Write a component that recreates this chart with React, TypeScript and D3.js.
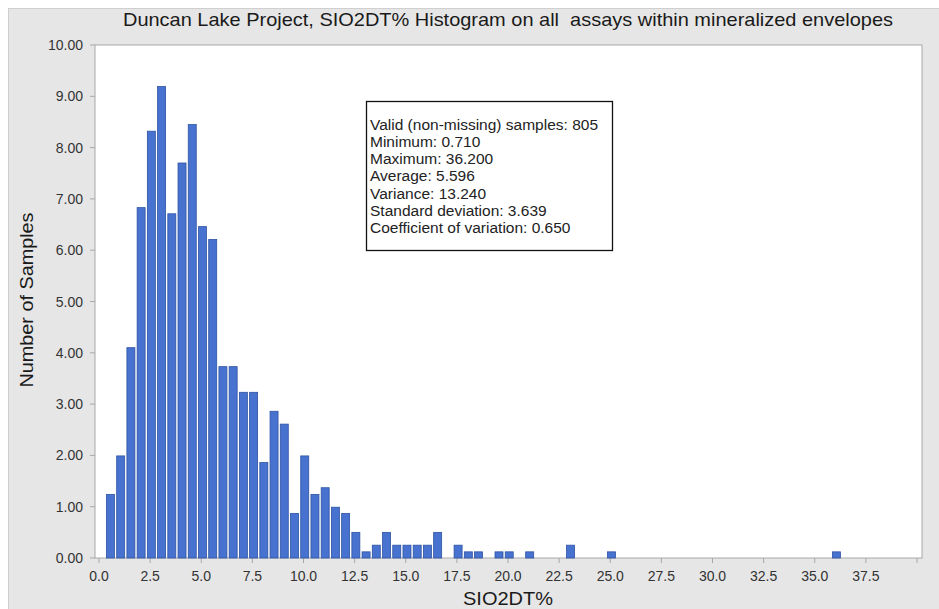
import React from "react";
import * as d3 from "d3";

const title = "Duncan Lake Project, SIO2DT% Histogram on all\u00a0 assays within mineralized envelopes";
const xAxisTitle = "SIO2DT%";
const yAxisTitle = "Number of Samples";

// histogram bin positions (SIO2DT%) with non-zero frequency
const binValues = [
  0.5, 1.0, 1.5, 2.0, 2.5, 3.0, 3.5, 4.0, 4.5, 5.0,
  5.5, 6.0, 6.5, 7.0, 7.5, 8.0, 8.5, 9.0, 9.5, 10.0,
  10.5, 11.0, 11.5, 12.0, 12.5, 13.0, 13.5, 14.0, 14.5, 15.0,
  15.5, 16.0, 16.5, 17.5, 18.0, 18.5, 19.5, 20.0, 21.0, 23.0,
  25.0, 36.0,
];
// percentage of samples in each bin
const binPercent = [
  1.24, 1.99, 4.10, 6.83, 8.32, 9.19, 6.71, 7.70, 8.45, 6.46,
  6.21, 3.73, 3.73, 3.23, 3.23, 1.86, 2.86, 2.61, 0.87, 1.99,
  1.24, 1.37, 0.99, 0.87, 0.50, 0.12, 0.25, 0.50, 0.25, 0.25,
  0.25, 0.25, 0.50, 0.25, 0.12, 0.12, 0.12, 0.12, 0.12, 0.25,
  0.12, 0.12,
];

const yTicks = [0, 1, 2, 3, 4, 5, 6, 7, 8, 9, 10];
const xTicks = [0, 2.5, 5, 7.5, 10, 12.5, 15, 17.5, 20, 22.5, 25, 27.5, 30, 32.5, 35, 37.5, 40];
const xTickLabels = ["0.0", "2.5", "5.0", "7.5", "10.0", "12.5", "15.0", "17.5", "20.0", "22.5", "25.0", "27.5", "30.0", "32.5", "35.0", "37.5", ""];

const statsLines = [
  "Valid (non-missing) samples: 805",
  "Minimum: 0.710",
  "Maximum: 36.200",
  "Average: 5.596",
  "Variance: 13.240",
  "Standard deviation: 3.639",
  "Coefficient of variation: 0.650",
];

const W = 939;
const H = 609;
const plot = { left: 95, right: 922, top: 45, bottom: 558 };
const FONT = "'Liberation Sans', Arial, sans-serif";

export default function App() {
  const x = d3.scaleLinear().domain([0, 40]).range([99, 917]);
  const y = d3.scaleLinear().domain([0, 10]).range([plot.bottom, plot.top]);
  const barW = 8;
  const barOffset = 0.06;

  return (
    <div style={{ position: "fixed", left: 0, top: 0 }}>
      <svg width={W} height={H} style={{ display: "block" }} fontFamily={FONT}>
        <rect x={0} y={0} width={W} height={H} fill="#ffffff" />
        <rect x={8.5} y={8.5} width={W - 8} height={H - 8} fill="#e6e6e6" stroke="#cfcfcf" />
        <text x={508} y={26} textAnchor="middle" fontSize={19} fill="#1a1a1a" textLength={770} lengthAdjust="spacingAndGlyphs">
          {title}
        </text>
        <rect x={plot.left} y={plot.top} width={plot.right - plot.left} height={plot.bottom - plot.top} fill="#ffffff" stroke="#a8a8a8" strokeWidth={1} />

        {yTicks.map((t) => (
          <g key={"y" + t}>
            <line x1={plot.left - 5} x2={plot.left} y1={y(t)} y2={y(t)} stroke="#a8a8a8" />
            <text x={83} y={y(t) + 5} textAnchor="end" fontSize={14} fill="#333">
              {t.toFixed(2)}
            </text>
          </g>
        ))}
        {xTicks.map((t, i) => (
          <g key={"x" + t}>
            <line x1={x(t)} x2={x(t)} y1={plot.bottom} y2={plot.bottom + 5} stroke="#a8a8a8" />
            <text x={x(t)} y={plot.bottom + 23} textAnchor="middle" fontSize={14} fill="#333">
              {xTickLabels[i]}
            </text>
          </g>
        ))}

        {binValues.map((b, i) => (
          <rect
            key={"b" + i}
            x={x(b + barOffset) - barW / 2}
            y={y(binPercent[i])}
            width={barW}
            height={y(0) - y(binPercent[i])}
            fill="#4772cf"
            stroke="#2f53a3"
            strokeWidth={0.8}
          />
        ))}

        <text x={508} y={605} textAnchor="middle" fontSize={19} fill="#1a1a1a" textLength={90} lengthAdjust="spacingAndGlyphs">
          {xAxisTitle}
        </text>
        <text transform={`translate(33, 300) rotate(-90)`} textAnchor="middle" fontSize={19} fill="#1a1a1a" textLength={175} lengthAdjust="spacingAndGlyphs">
          {yAxisTitle}
        </text>

        <rect x={366.5} y={101.5} width={246} height={149} fill="#ffffff" stroke="#111" strokeWidth={1.3} />
        {statsLines.map((s, i) => (
          <text key={"s" + i} x={370} y={129.5 + i * 17.3} fontSize={15.5} fill="#222">
            {s}
          </text>
        ))}
      </svg>
    </div>
  );
}
